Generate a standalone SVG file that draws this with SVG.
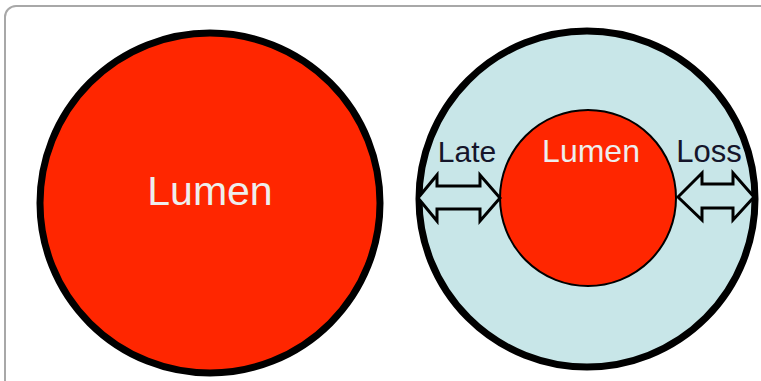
<svg xmlns="http://www.w3.org/2000/svg" width="761" height="381" viewBox="0 0 761 381">
<style>
.lbl{font-family:"Liberation Sans",Arial,sans-serif;text-anchor:middle}
.white{fill:#eeeeee}
.dark{fill:#15152a}
.arrow{fill:#c8e6e8;stroke:#000;stroke-width:3;stroke-linejoin:miter}
</style>
<rect x="5" y="6" width="800" height="420" rx="11" fill="#fff" stroke="#a8a8a8" stroke-width="2"/>
<g id="vessel-normal">
<circle cx="210" cy="203" r="170" fill="#ff2600" stroke="#000" stroke-width="7"/>
<text class="lbl white" x="210" y="205" font-size="41">Lumen</text>
</g>
<g id="vessel-narrowed">
<circle cx="587" cy="199" r="168" fill="#c8e6e8" stroke="#000" stroke-width="7"/>
</g>
<g id="lumen-inner">
<circle cx="588" cy="198" r="88" fill="#ff2600" stroke="#000" stroke-width="2"/>
<text class="lbl white" x="591" y="162" font-size="32">Lumen</text>
</g>
<g id="connectors">
<path class="arrow" d="M418,198 L437,175 L437,186 L480,186 L480,175 L500,198 L480,221 L480,209 L437,209 L437,221 Z"/>
<path class="arrow" d="M678,197 L702,173 L702,184 L733,184 L733,173 L754,197 L733,220 L733,208 L702,208 L702,220 Z"/>
</g>
<g id="label-late">
<text class="lbl dark" x="467" y="162" font-size="30">Late</text>
</g>
<g id="label-loss">
<text class="lbl dark" x="709" y="162" font-size="31">Loss</text>
</g>
</svg>
